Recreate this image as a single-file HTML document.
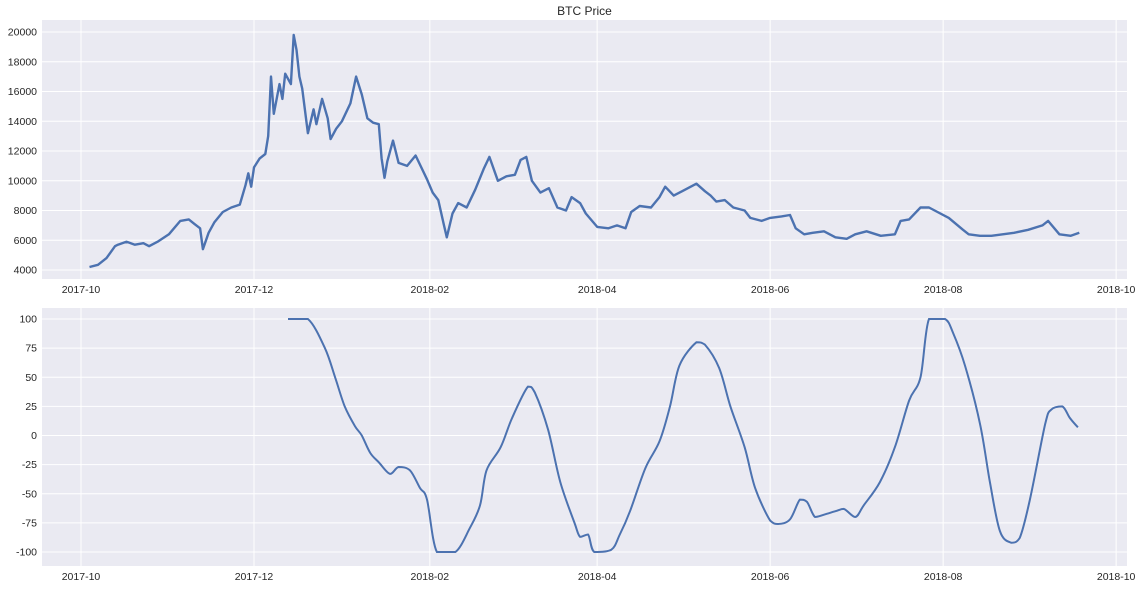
<!DOCTYPE html>
<html><head><meta charset="utf-8">
<style>
body{margin:0;background:#fff;width:1142px;height:588px;overflow:hidden;font-family:"Liberation Sans",sans-serif}
svg text{font-family:"Liberation Sans",sans-serif;font-size:10.5px;fill:#262626}
</style></head>
<body>
<svg id="chart" width="1142" height="588"></svg>
<script>
// Days since 2017-10-01
const priceDays = [3,6,9,12,13,16,19,22,24,27,31,35,38,40,42,43,45,47,50,53,56,58,59,60,61,63,65,66,67,68,70,71,72,74,75,76,77,78,80,82,83,85,87,88,90,92,95,97,99,101,103,105,106,107,108,110,112,115,118,120,122,124,126,128,129,131,133,136,139,142,144,147,150,153,155,157,159,162,165,168,171,173,176,178,182,186,189,192,194,197,201,204,206,209,212,217,220,222,224,227,230,234,236,240,243,247,250,252,255,258,262,266,270,273,277,282,287,289,292,296,299,302,306,311,313,317,321,325,329,334,339,341,345,349,352];
const priceVals = [4200,4350,4800,5600,5700,5900,5700,5800,5600,5900,6400,7300,7400,7100,6800,5400,6500,7200,7900,8200,8400,9700,10500,9600,10900,11500,11800,13000,17000,14500,16500,15500,17200,16500,19800,18800,17000,16200,13200,14800,13800,15500,14200,12800,13500,14000,15200,17000,15800,14200,13900,13800,11500,10200,11300,12700,11200,11000,11700,10900,10100,9200,8700,7000,6200,7800,8500,8200,9400,10800,11600,10000,10300,10400,11400,11600,10000,9200,9500,8200,8000,8900,8500,7800,6900,6800,7000,6800,7900,8300,8200,8900,9600,9000,9300,9800,9300,9000,8600,8700,8200,8000,7500,7300,7500,7600,7700,6800,6400,6500,6600,6200,6100,6400,6600,6300,6400,7300,7400,8200,8200,7900,7500,6700,6400,6300,6300,6400,6500,6700,7000,7300,6400,6300,6500];
const oscDays = [73,80,86,89.6,93,96.6,99,102,105,109,112,116,119.5,122,125.5,132,137,140.7,143,148,152,157.6,160,164.7,169,174,176,178.8,181,187,190,193.6,199,204,207.7,211,217,220,225,229,234,237.7,243,245.8,250,253.5,256,258.8,262,266,269,273,276,281.7,287,292,296,299,304.7,307.5,311.7,317,320.5,324,328,331,334.6,340,342,346,348.7,351.5];
const oscVals = [100,100,75,50,25,8,0,-15,-23,-33,-27,-30,-45,-55,-100,-100,-80,-60,-30,-10,15,42,37,5,-40,-75,-87,-85,-100,-98,-85,-65,-28,-5,25,60,80,78,58,25,-10,-45,-73,-76,-72,-55,-57,-70,-68,-65,-63,-70,-60,-40,-10,30,50,100,100,88,60,10,-40,-82,-92,-88,-55,10,22,25,15,7];
const xTickDays = [0,61,123,182,243,304,365];
const xTickLabels = ["2017-10","2017-12","2018-02","2018-04","2018-06","2018-08","2018-10"];
const topTicks = [4000,6000,8000,10000,12000,14000,16000,18000,20000];
const botTicks = [-100,-75,-50,-25,0,25,50,75,100];

const NS="http://www.w3.org/2000/svg";
const svg=document.getElementById('chart');
function mk(t,a,p){const e=document.createElementNS(NS,t);for(const k in a)e.setAttribute(k,a[k]);(p||svg).appendChild(e);return e;}
const xS=d=>81+d*2.836;
const L=42,R=1127;
function clamp(v,a,b){const lo=Math.min(a,b),hi=Math.max(a,b);return Math.max(lo,Math.min(hi,v));}
function smoothPath(P){
  let d='M'+P[0][0].toFixed(1)+','+P[0][1].toFixed(1);
  for(let i=0;i<P.length-1;i++){
    const p0=P[i-1]||P[i],p1=P[i],p2=P[i+1],p3=P[i+2]||P[i+1];
    const c1=[p1[0]+(p2[0]-p0[0])/6,clamp(p1[1]+(p2[1]-p0[1])/6,p1[1],p2[1])];
    const c2=[p2[0]-(p3[0]-p1[0])/6,clamp(p2[1]-(p3[1]-p1[1])/6,p1[1],p2[1])];
    d+=' C'+c1[0].toFixed(1)+','+c1[1].toFixed(1)+' '+c2[0].toFixed(1)+','+c2[1].toFixed(1)+' '+p2[0].toFixed(1)+','+p2[1].toFixed(1);
  }
  return d;
}
function panel(name,top,bot,yS,ticks,days,vals,smooth,sw){
  const g=mk('g',{});
  
  
  const bg=mk('rect',{x:L,y:top,width:R-L,height:bot-top,fill:'#EAEAF2'},g);
  
  
  ticks.forEach(v=>{
    const y=yS(v);
    mk('line',{x1:L,x2:R,y1:y,y2:y,stroke:'#fff','stroke-width':1},g);
    const t=mk('text',{x:L-5,y:y+3.5,'text-anchor':'end'},g);t.textContent=v;
    
    
  });
  xTickDays.forEach((d,i)=>{
    const x=xS(d);
    mk('line',{x1:x,x2:x,y1:top,y2:bot,stroke:'#fff','stroke-width':1},g);
    const t=mk('text',{x:x,y:bot+14,'text-anchor':'middle'},g);t.textContent=xTickLabels[i];
    
    
  });
  const P=days.map((d,i)=>[xS(d),yS(vals[i])]);
  let el;
  if(smooth){
    el=mk('path',{d:smoothPath(P),fill:'none',stroke:'#4C72B0','stroke-width':sw},g);
  }else{
    el=mk('polyline',{points:P.map(p=>p[0].toFixed(1)+','+p[1].toFixed(1)).join(' '),fill:'none',stroke:'#4C72B0','stroke-width':sw,'stroke-linejoin':'round'},g);
  }
  
  
}
panel('price-panel',20,279,v=>270-(v-4000)/2000*29.75,topTicks,priceDays,priceVals,false,2.4);
panel('oscillator-panel',308,566,v=>435.5-v/25*29.125,botTicks,oscDays,oscVals,true,2);
const title=mk('text',{x:584.5,y:15,'text-anchor':'middle',style:'font-size:12px'});
title.textContent='BTC Price';


</script>
</body></html>
